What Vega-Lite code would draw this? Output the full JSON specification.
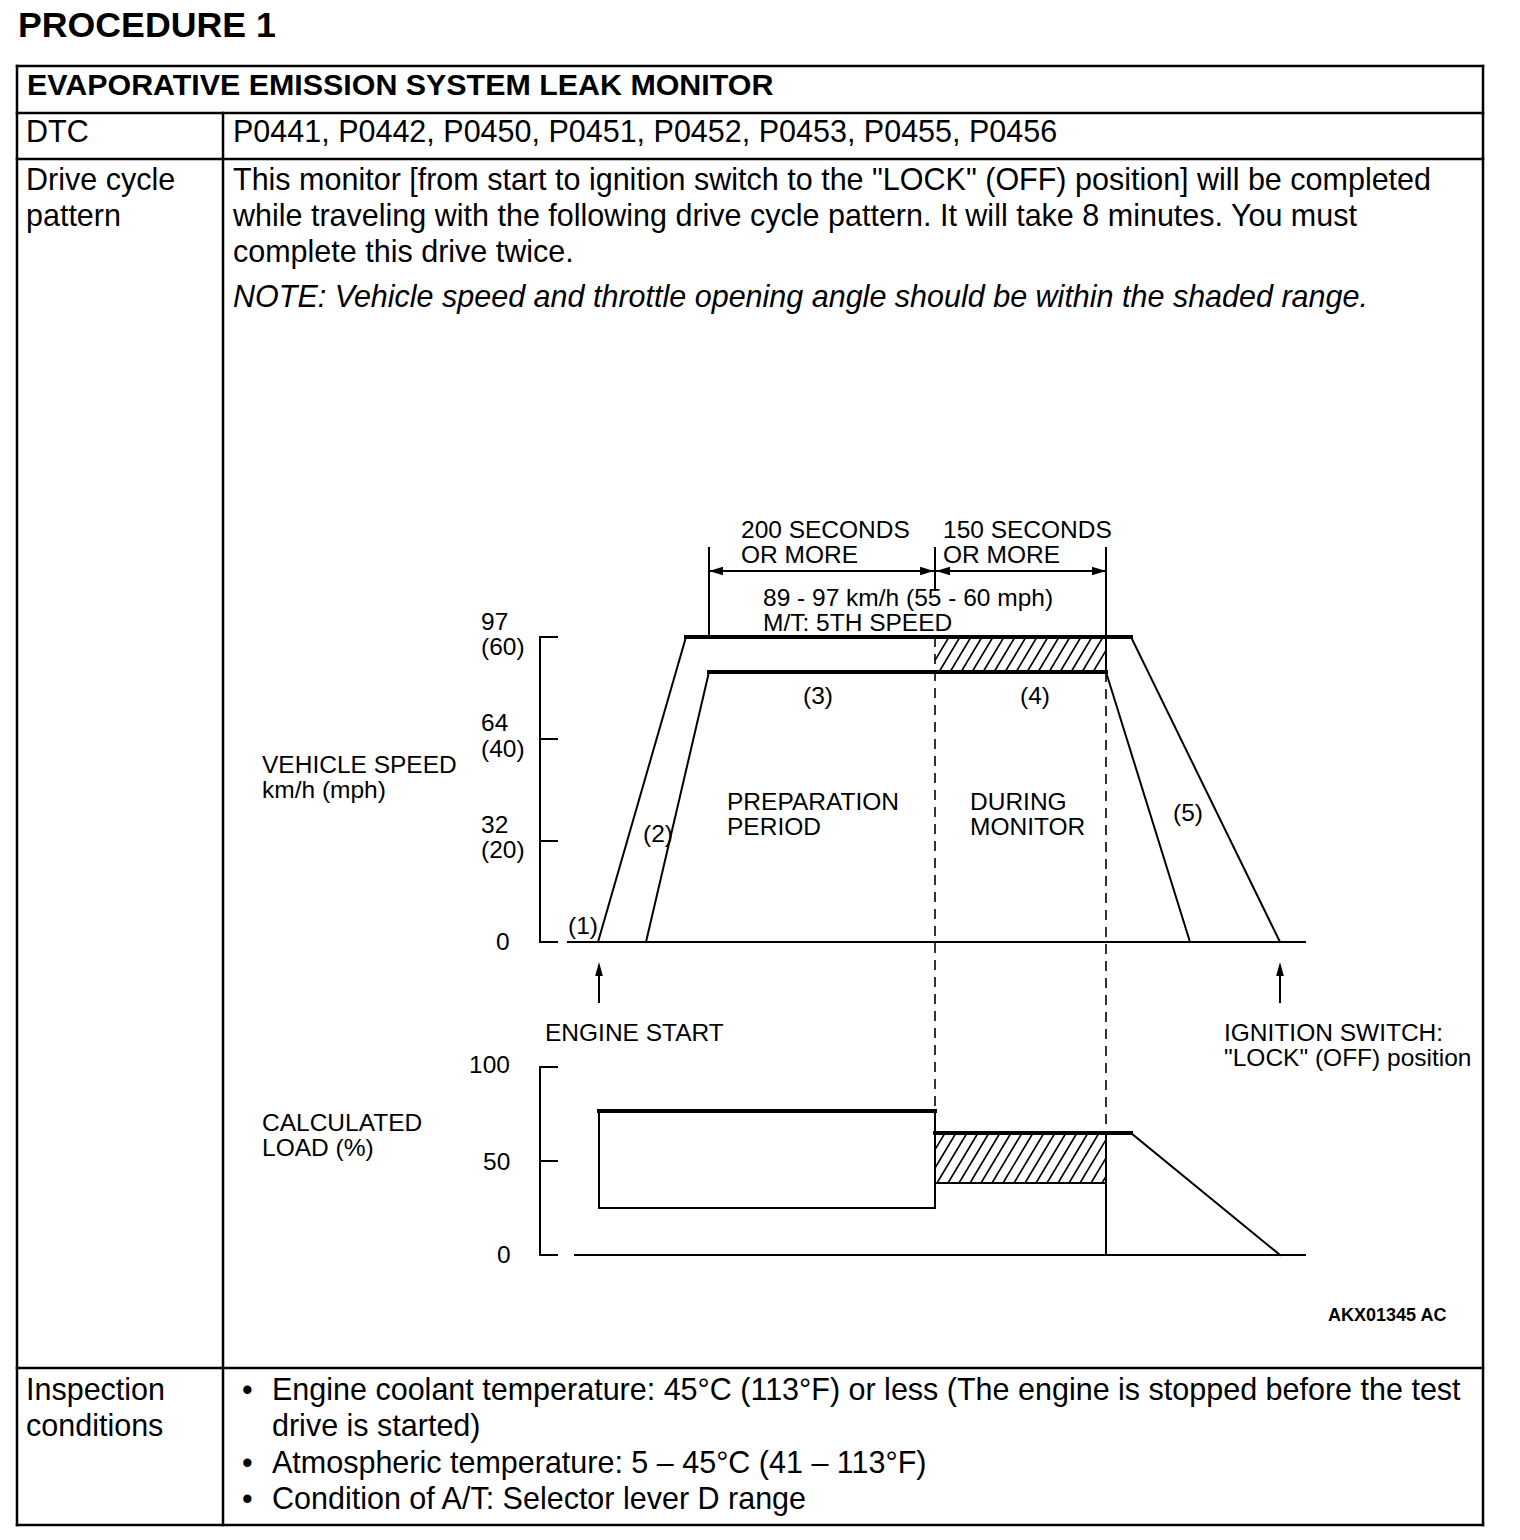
{
  "$schema": "https://vega.github.io/schema/vega-lite/v6.json",
  "width": 1520,
  "height": 1540,
  "autosize": {"type": "fit", "contains": "padding"},
  "padding": 0,
  "background": "white",
  "config": {"view": {"stroke": null}},
  "datasets": {
    "tableLines": [
      {"x": 17, "y": 66, "x2": 1483, "y2": 66},
      {"x": 17, "y": 113, "x2": 1483, "y2": 113},
      {"x": 17, "y": 159, "x2": 1483, "y2": 159},
      {"x": 17, "y": 1368, "x2": 1483, "y2": 1368},
      {"x": 17, "y": 1525, "x2": 1483, "y2": 1525},
      {"x": 17, "y": 66, "x2": 17, "y2": 1525},
      {"x": 1483, "y": 66, "x2": 1483, "y2": 1525},
      {"x": 223, "y": 113, "x2": 223, "y2": 1525}
    ],
    "thinLines": [
      {"x": 540, "y": 637, "x2": 540, "y2": 942},
      {"x": 540, "y": 637, "x2": 557, "y2": 637},
      {"x": 540, "y": 739, "x2": 557, "y2": 739},
      {"x": 540, "y": 841, "x2": 557, "y2": 841},
      {"x": 540, "y": 942, "x2": 557, "y2": 942},
      {"x": 568, "y": 942, "x2": 1305, "y2": 942},
      {"x": 598, "y": 942, "x2": 686, "y2": 637},
      {"x": 1131, "y": 637, "x2": 1280, "y2": 942},
      {"x": 646, "y": 942, "x2": 709, "y2": 672},
      {"x": 1106, "y": 672, "x2": 1190, "y2": 942},
      {"x": 709, "y": 548, "x2": 709, "y2": 637},
      {"x": 1106, "y": 548, "x2": 1106, "y2": 672},
      {"x": 935, "y": 548, "x2": 935, "y2": 590},
      {"x": 709, "y": 571, "x2": 1106, "y2": 571},
      {"x": 599, "y": 970, "x2": 599, "y2": 1002},
      {"x": 1280, "y": 970, "x2": 1280, "y2": 1002},
      {"x": 540, "y": 1067, "x2": 540, "y2": 1255},
      {"x": 540, "y": 1067, "x2": 557, "y2": 1067},
      {"x": 540, "y": 1161, "x2": 557, "y2": 1161},
      {"x": 540, "y": 1255, "x2": 557, "y2": 1255},
      {"x": 575, "y": 1255, "x2": 1305, "y2": 1255},
      {"x": 599, "y": 1111, "x2": 599, "y2": 1208},
      {"x": 599, "y": 1208, "x2": 935, "y2": 1208},
      {"x": 935, "y": 1111, "x2": 935, "y2": 1208},
      {"x": 935, "y": 1183, "x2": 1106, "y2": 1183},
      {"x": 1106, "y": 1133, "x2": 1106, "y2": 1255},
      {"x": 1131, "y": 1133, "x2": 1280, "y2": 1255}
    ],
    "boldLines": [
      {"x": 686, "y": 637, "x2": 1131, "y2": 637},
      {"x": 709, "y": 672, "x2": 1106, "y2": 672},
      {"x": 599, "y": 1111, "x2": 935, "y2": 1111},
      {"x": 935, "y": 1133, "x2": 1131, "y2": 1133}
    ],
    "dashedLines": [
      {"x": 935, "y": 637, "x2": 935, "y2": 1111},
      {"x": 1106, "y": 672, "x2": 1106, "y2": 1133}
    ],
    "hatch": [
      {"x": 935, "y": 660.3, "x2": 949, "y2": 637},
      {"x": 939, "y": 672, "x2": 960, "y2": 637},
      {"x": 950, "y": 672, "x2": 971, "y2": 637},
      {"x": 961, "y": 672, "x2": 982, "y2": 637},
      {"x": 972, "y": 672, "x2": 993, "y2": 637},
      {"x": 983, "y": 672, "x2": 1004, "y2": 637},
      {"x": 994, "y": 672, "x2": 1015, "y2": 637},
      {"x": 1005, "y": 672, "x2": 1026, "y2": 637},
      {"x": 1016, "y": 672, "x2": 1037, "y2": 637},
      {"x": 1027, "y": 672, "x2": 1048, "y2": 637},
      {"x": 1038, "y": 672, "x2": 1059, "y2": 637},
      {"x": 1049, "y": 672, "x2": 1070, "y2": 637},
      {"x": 1060, "y": 672, "x2": 1081, "y2": 637},
      {"x": 1071, "y": 672, "x2": 1092, "y2": 637},
      {"x": 1082, "y": 672, "x2": 1103, "y2": 637},
      {"x": 1093, "y": 672, "x2": 1106, "y2": 650.3},
      {"x": 935, "y": 1149.7, "x2": 945, "y2": 1133},
      {"x": 935, "y": 1168, "x2": 956, "y2": 1133},
      {"x": 937, "y": 1183, "x2": 967, "y2": 1133},
      {"x": 948, "y": 1183, "x2": 978, "y2": 1133},
      {"x": 959, "y": 1183, "x2": 989, "y2": 1133},
      {"x": 970, "y": 1183, "x2": 1000, "y2": 1133},
      {"x": 981, "y": 1183, "x2": 1011, "y2": 1133},
      {"x": 992, "y": 1183, "x2": 1022, "y2": 1133},
      {"x": 1003, "y": 1183, "x2": 1033, "y2": 1133},
      {"x": 1014, "y": 1183, "x2": 1044, "y2": 1133},
      {"x": 1025, "y": 1183, "x2": 1055, "y2": 1133},
      {"x": 1036, "y": 1183, "x2": 1066, "y2": 1133},
      {"x": 1047, "y": 1183, "x2": 1077, "y2": 1133},
      {"x": 1058, "y": 1183, "x2": 1088, "y2": 1133},
      {"x": 1069, "y": 1183, "x2": 1099, "y2": 1133},
      {"x": 1080, "y": 1183, "x2": 1106, "y2": 1139.7},
      {"x": 1091, "y": 1183, "x2": 1106, "y2": 1158},
      {"x": 1102, "y": 1183, "x2": 1106, "y2": 1176.3}
    ],
    "arrowsLeft": [
      {"x": 709, "y": 571},
      {"x": 936, "y": 571}
    ],
    "arrowsRight": [
      {"x": 934, "y": 571},
      {"x": 1106, "y": 571}
    ],
    "arrowsUp": [
      {"x": 599, "y": 962},
      {"x": 1280, "y": 962}
    ],
    "titleText": [
      {"x": 18, "y": 37, "t": "PROCEDURE 1"}
    ],
    "headerText": [
      {"x": 27, "y": 95, "t": "EVAPORATIVE EMISSION SYSTEM LEAK MONITOR"}
    ],
    "bodyText": [
      {"x": 26, "y": 142, "t": "DTC"},
      {"x": 233, "y": 142, "t": "P0441, P0442, P0450, P0451, P0452, P0453, P0455, P0456"},
      {"x": 26, "y": 190, "t": "Drive cycle"},
      {"x": 26, "y": 226, "t": "pattern"},
      {"x": 233, "y": 190, "t": "This monitor [from start to ignition switch to the \"LOCK\" (OFF) position] will be completed"},
      {"x": 233, "y": 226, "t": "while traveling with the following drive cycle pattern. It will take 8 minutes. You must"},
      {"x": 233, "y": 262, "t": "complete this drive twice."},
      {"x": 26, "y": 1400, "t": "Inspection"},
      {"x": 26, "y": 1436, "t": "conditions"},
      {"x": 242, "y": 1400, "t": "•"},
      {"x": 272, "y": 1400, "t": "Engine coolant temperature: 45°C (113°F) or less (The engine is stopped before the test"},
      {"x": 272, "y": 1436, "t": "drive is started)"},
      {"x": 242, "y": 1473, "t": "•"},
      {"x": 272, "y": 1473, "t": "Atmospheric temperature: 5 – 45°C (41 – 113°F)"},
      {"x": 242, "y": 1509, "t": "•"},
      {"x": 272, "y": 1509, "t": "Condition of A/T: Selector lever D range"}
    ],
    "noteText": [
      {"x": 233, "y": 307, "t": "NOTE: Vehicle speed and throttle opening angle should be within the shaded range."}
    ],
    "diagramText": [
      {"x": 741, "y": 538, "t": "200 SECONDS"},
      {"x": 741, "y": 563, "t": "OR MORE"},
      {"x": 943, "y": 538, "t": "150 SECONDS"},
      {"x": 943, "y": 563, "t": "OR MORE"},
      {"x": 763, "y": 606, "t": "89 - 97 km/h (55 - 60 mph)"},
      {"x": 763, "y": 631, "t": "M/T: 5TH SPEED"},
      {"x": 481, "y": 630, "t": "97"},
      {"x": 481, "y": 655, "t": "(60)"},
      {"x": 481, "y": 731, "t": "64"},
      {"x": 481, "y": 757, "t": "(40)"},
      {"x": 481, "y": 833, "t": "32"},
      {"x": 481, "y": 858, "t": "(20)"},
      {"x": 496, "y": 950, "t": "0"},
      {"x": 262, "y": 773, "t": "VEHICLE SPEED"},
      {"x": 262, "y": 798, "t": "km/h (mph)"},
      {"x": 568, "y": 934, "t": "(1)"},
      {"x": 643, "y": 842, "t": "(2)"},
      {"x": 803, "y": 704, "t": "(3)"},
      {"x": 1020, "y": 704, "t": "(4)"},
      {"x": 1173, "y": 821, "t": "(5)"},
      {"x": 727, "y": 810, "t": "PREPARATION"},
      {"x": 727, "y": 835, "t": "PERIOD"},
      {"x": 970, "y": 810, "t": "DURING"},
      {"x": 970, "y": 835, "t": "MONITOR"},
      {"x": 545, "y": 1041, "t": "ENGINE START"},
      {"x": 1224, "y": 1041, "t": "IGNITION SWITCH:"},
      {"x": 1224, "y": 1066, "t": "\"LOCK\" (OFF) position"},
      {"x": 262, "y": 1131, "t": "CALCULATED"},
      {"x": 262, "y": 1156, "t": "LOAD (%)"},
      {"x": 469, "y": 1073, "t": "100"},
      {"x": 483, "y": 1170, "t": "50"},
      {"x": 497, "y": 1263, "t": "0"}
    ],
    "codeText": [
      {"x": 1328, "y": 1321, "t": "AKX01345 AC"}
    ]
  },
  "encoding": {
    "x": {"field": "x", "type": "quantitative", "scale": {"domain": [0, 1520], "nice": false, "zero": false}, "axis": null},
    "y": {"field": "y", "type": "quantitative", "scale": {"domain": [0, 1540], "nice": false, "zero": false, "reverse": true}, "axis": null}
  },
  "layer": [
    {
      "data": {"name": "hatch"},
      "mark": {"type": "rule", "color": "black", "strokeWidth": 1.6},
      "encoding": {"x2": {"field": "x2"}, "y2": {"field": "y2"}}
    },
    {
      "data": {"name": "tableLines"},
      "mark": {"type": "rule", "color": "black", "strokeWidth": 2.5, "strokeCap": "square"},
      "encoding": {"x2": {"field": "x2"}, "y2": {"field": "y2"}}
    },
    {
      "data": {"name": "thinLines"},
      "mark": {"type": "rule", "color": "black", "strokeWidth": 2, "strokeCap": "square"},
      "encoding": {"x2": {"field": "x2"}, "y2": {"field": "y2"}}
    },
    {
      "data": {"name": "boldLines"},
      "mark": {"type": "rule", "color": "black", "strokeWidth": 4, "strokeCap": "square"},
      "encoding": {"x2": {"field": "x2"}, "y2": {"field": "y2"}}
    },
    {
      "data": {"name": "dashedLines"},
      "mark": {"type": "rule", "color": "black", "strokeWidth": 1.6, "strokeDash": [10, 7]},
      "encoding": {"x2": {"field": "x2"}, "y2": {"field": "y2"}}
    },
    {
      "data": {"name": "arrowsLeft"},
      "mark": {"type": "point", "filled": true, "color": "black", "opacity": 1, "size": 196, "shape": "M0,0L2,-0.6L2,0.6Z"}
    },
    {
      "data": {"name": "arrowsRight"},
      "mark": {"type": "point", "filled": true, "color": "black", "opacity": 1, "size": 196, "shape": "M0,0L-2,-0.6L-2,0.6Z"}
    },
    {
      "data": {"name": "arrowsUp"},
      "mark": {"type": "point", "filled": true, "color": "black", "opacity": 1, "size": 196, "shape": "M0,0L-0.55,2L0.55,2Z"}
    },
    {
      "data": {"name": "titleText"},
      "mark": {"type": "text", "align": "left", "baseline": "alphabetic", "font": "Liberation Sans", "fontSize": 35.7, "fontWeight": "bold", "color": "black"},
      "encoding": {"text": {"field": "t"}}
    },
    {
      "data": {"name": "headerText"},
      "mark": {"type": "text", "align": "left", "baseline": "alphabetic", "font": "Liberation Sans", "fontSize": 30.4, "fontWeight": "bold", "color": "black"},
      "encoding": {"text": {"field": "t"}}
    },
    {
      "data": {"name": "bodyText"},
      "mark": {"type": "text", "align": "left", "baseline": "alphabetic", "font": "Liberation Sans", "fontSize": 30.5, "color": "black"},
      "encoding": {"text": {"field": "t"}}
    },
    {
      "data": {"name": "noteText"},
      "mark": {"type": "text", "align": "left", "baseline": "alphabetic", "font": "Liberation Sans", "fontSize": 30.5, "fontStyle": "italic", "color": "black"},
      "encoding": {"text": {"field": "t"}}
    },
    {
      "data": {"name": "diagramText"},
      "mark": {"type": "text", "align": "left", "baseline": "alphabetic", "font": "Liberation Sans", "fontSize": 24.5, "color": "black"},
      "encoding": {"text": {"field": "t"}}
    },
    {
      "data": {"name": "codeText"},
      "mark": {"type": "text", "align": "left", "baseline": "alphabetic", "font": "Liberation Sans", "fontSize": 18, "fontWeight": "bold", "color": "black"},
      "encoding": {"text": {"field": "t"}}
    }
  ]
}
